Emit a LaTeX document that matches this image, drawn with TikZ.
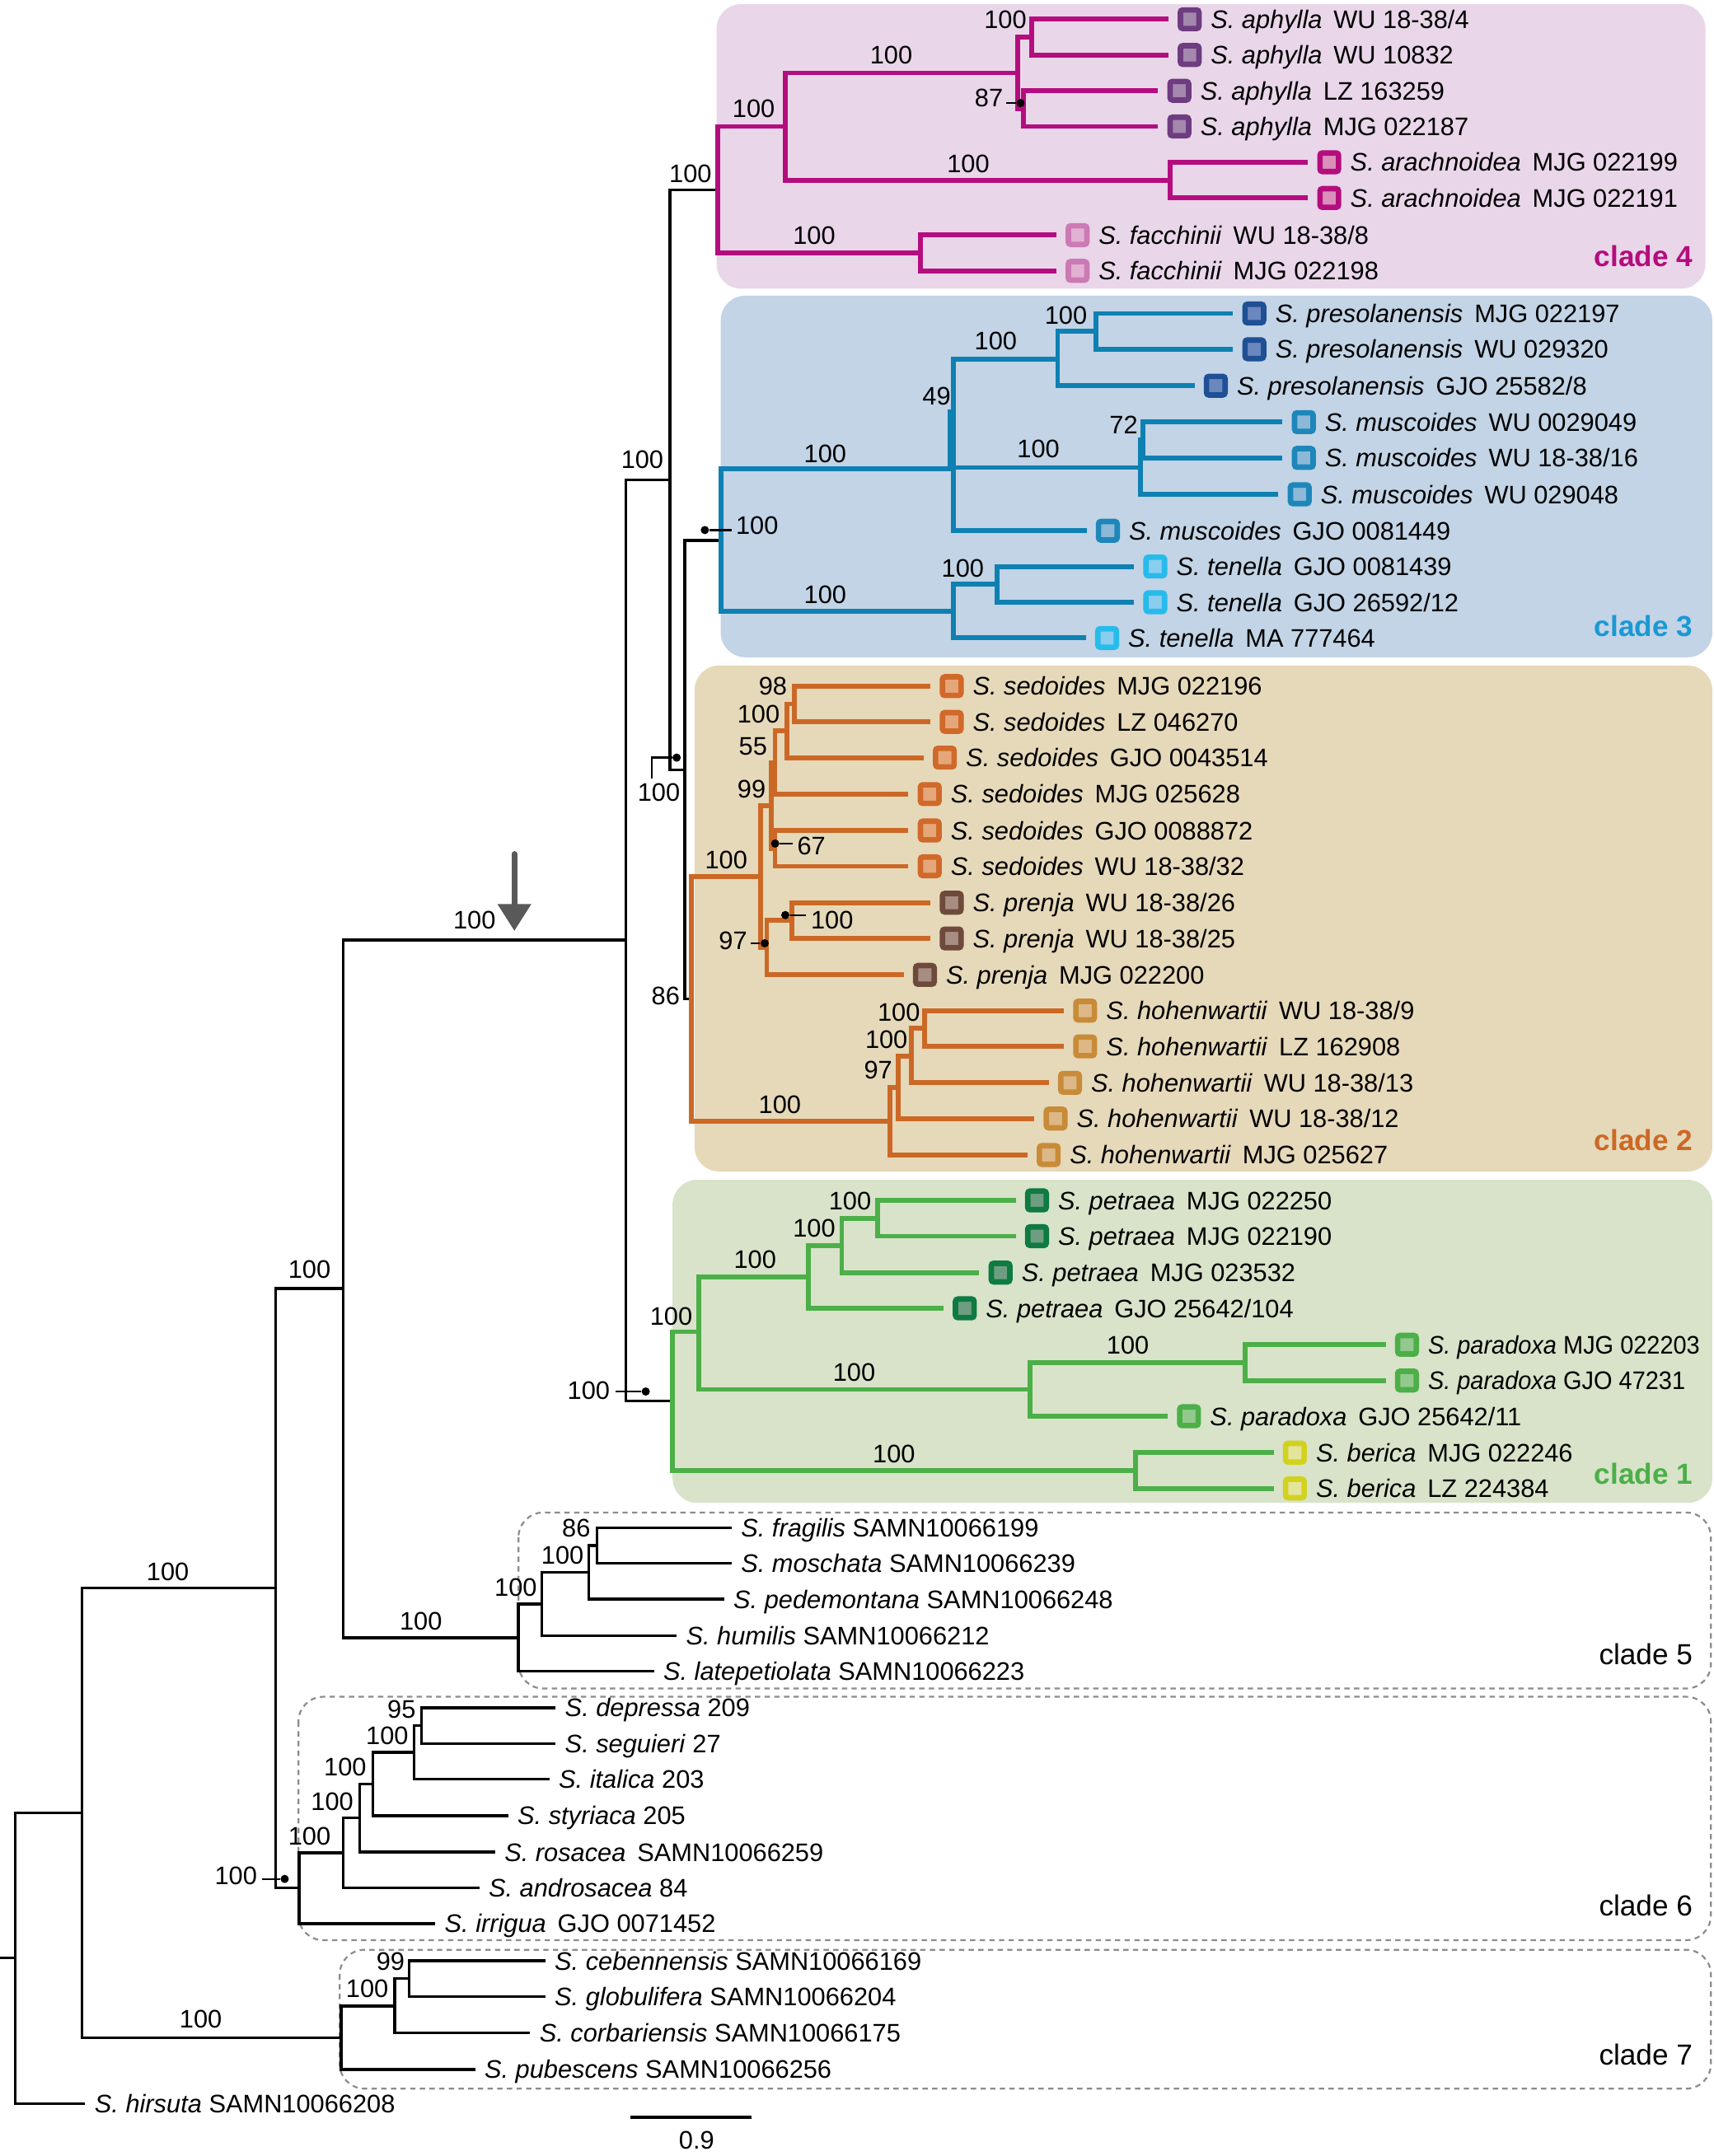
\documentclass[tikz,border=0pt]{standalone}
\usepackage{graphicx}
\usepackage{fontspec}
\setmainfont{Liberation Sans}
\usetikzlibrary{positioning,arrows.meta,calc}

\definecolor{magbr}{HTML}{B40D7E}
\definecolor{bluebr}{HTML}{0E80B2}
\definecolor{bluelab}{HTML}{1B98D4}
\definecolor{orbr}{HTML}{CC6826}
\definecolor{grnbr}{HTML}{4CAF48}
\definecolor{bgfour}{HTML}{E9D6E9}
\definecolor{bgthree}{HTML}{C2D4E6}
\definecolor{bgtwo}{HTML}{E6D9B9}
\definecolor{bgone}{HTML}{D8E3C9}
\definecolor{arrgray}{HTML}{595959}
\definecolor{aphD}{HTML}{6E3C80}\definecolor{aphL}{HTML}{A488AE}
\definecolor{araD}{HTML}{B40D7E}\definecolor{araL}{HTML}{D98FBA}
\definecolor{facD}{HTML}{CC7AB4}\definecolor{facL}{HTML}{E2B0D2}
\definecolor{preD}{HTML}{1F4F94}\definecolor{preL}{HTML}{6A88BE}
\definecolor{musD}{HTML}{1D87B9}\definecolor{musL}{HTML}{8DB8D8}
\definecolor{tenD}{HTML}{27BBEB}\definecolor{tenL}{HTML}{8ACDEE}
\definecolor{sedD}{HTML}{D0692A}\definecolor{sedL}{HTML}{E5A77A}
\definecolor{prnD}{HTML}{6E4A3C}\definecolor{prnL}{HTML}{A88D82}
\definecolor{hohD}{HTML}{C88B37}\definecolor{hohL}{HTML}{DCB888}
\definecolor{petD}{HTML}{0F7A42}\definecolor{petL}{HTML}{6E9E82}
\definecolor{parD}{HTML}{4CAF48}\definecolor{parL}{HTML}{94C98E}
\definecolor{berD}{HTML}{D2D21E}\definecolor{berL}{HTML}{E4E49C}

\newcommand{\taxw}[2]{\textit{S. #1}\hspace{0.45em}#2}
\newcommand{\taxn}[2]{\textit{S. #1} #2}
\newcommand{\taxc}[2]{\scalebox{0.94}[1]{\textit{S. #1} #2}}

\tikzset{
  lab/.style={font=\fontsize{10.5}{12.5}\selectfont, inner sep=0pt, text height=9pt, text depth=1.5pt},
  cladelab/.style={font=\fontsize{12}{14}\selectfont\bfseries, inner sep=0pt, anchor=east, text height=10.4pt, text depth=1.8pt},
  cladeplain/.style={cladelab, font=\fontsize{12}{14}\selectfont},
  br0/.style={line width=1.2pt, black},
  br1/.style={line width=2pt, grnbr},
  br2/.style={line width=2pt, orbr},
  br3/.style={line width=2pt, bluebr},
  br4/.style={line width=2pt, magbr},
  sq/.style={rectangle, draw=#1D, fill=#1L, line width=0.08cm, minimum size=0.27cm, inner sep=0pt, rounded corners=1pt},
  ptdot/.style={circle, fill=black, inner sep=0pt, minimum size=0.12cm},
  ptr/.style={line width=0.8pt, black},
  clbox/.style={rounded corners=0.36cm},
  dashbox/.style={draw=gray!90, line width=0.75pt, dash pattern=on 2.2pt off 1.8pt, rounded corners=0.36cm},
  bigarrow/.style={draw=arrgray, line width=0.08cm, line cap=round, -{Triangle[width=0.47cm,length=0.39cm]}}
}

\begin{document}
\begin{tikzpicture}[x=0.02cm, y=-0.02cm]
\fill[white] (0,0) rectangle (1246,1568);
\useasboundingbox (0,0) rectangle (1246,1568);

\fill[bgfour, clbox] (521,3) rectangle (1240,210);
\fill[bgthree, clbox] (524,215) rectangle (1245,478);
\fill[bgtwo, clbox] (505,484) rectangle (1245,852);
\fill[bgone, clbox] (489,858) rectangle (1245,1093);
\draw[dashbox] (377,1100) rectangle (1244,1228);
\draw[dashbox] (217,1234) rectangle (1244,1411);
\draw[dashbox] (247,1418) rectangle (1244,1519);

\coordinate (rs) at (0,1424);
\coordinate (rt) at (11,1424);
\coordinate (r3) at (59.5,1318.5);
\coordinate (r2) at (200.5,1155);
\coordinate (r1) at (249.5,937);
\coordinate (k2) at (455,683.5);
\coordinate (k1) at (487,349);
\coordinate (y3) at (498,560);
\coordinate (c4) at (522,138);
\coordinate (a4) at (571,92);
\coordinate (a3) at (740,53);
\coordinate (a1) at (750,27);
\coordinate (a2) at (744,79);
\coordinate (ar) at (851,131);
\coordinate (fa) at (669,184);
\coordinate (c3) at (524.5,393);
\coordinate (b49) at (693,341);
\coordinate (b49a) at (690.5,298);
\coordinate (b49b) at (690.5,343);
\coordinate (p2) at (769,261);
\coordinate (p1) at (797,241);
\coordinate (m2) at (829,340);
\coordinate (m1) at (831,320);
\coordinate (te2) at (693,444.5);
\coordinate (te1) at (725,425);
\coordinate (c2) at (502.5,726.5);
\coordinate (sp) at (553,637.5);
\coordinate (s99) at (561,586);
\coordinate (s55) at (563.5,554.5);
\coordinate (s100) at (572,531.5);
\coordinate (s98) at (577.5,512);
\coordinate (s67) at (563.5,617);
\coordinate (pr2) at (557.5,689);
\coordinate (pr1) at (576,669.5);
\coordinate (h4) at (647,815.5);
\coordinate (h3) at (653,791);
\coordinate (h2) at (662.5,768);
\coordinate (h1) at (672.5,748);
\coordinate (c1) at (489,1019);
\coordinate (e4) at (508,968.5);
\coordinate (e3) at (588,928.5);
\coordinate (e2) at (612,906);
\coordinate (e1) at (638,886);
\coordinate (pa2) at (749,1010.5);
\coordinate (pa1) at (905.5,991);
\coordinate (be) at (825.5,1069.5);
\coordinate (c5) at (377,1191);
\coordinate (f3) at (394,1166.5);
\coordinate (f2) at (428,1143.5);
\coordinate (f1) at (434,1124);
\coordinate (c6) at (217.5,1373);
\coordinate (d5) at (249.5,1347.5);
\coordinate (d4) at (261.5,1322);
\coordinate (d3) at (271,1297.5);
\coordinate (d2) at (301,1274.5);
\coordinate (d1) at (306.5,1255);
\coordinate (c7) at (248,1482);
\coordinate (g2) at (287,1459);
\coordinate (g1) at (297.5,1439);

\draw[br0] (rs) -- (rt);
\draw[br0] (rt) |- (r3);
\draw[br0] (r3) |- (r2);
\draw[br0] (r3) |- (c7);
\draw[br0] (r2) |- (r1);
\draw[br0] (r2) |- (c6);
\draw[br0] (r1) |- (k2);
\draw[br0] (r1) |- (c5);
\draw[br0] (k2) |- (k1);
\draw[br0] (k2) |- (c1);
\draw[br0] (k1) |- (c4);
\draw[br0] (k1) |- (y3);
\draw[br0] (y3) |- (c3);
\draw[br0] (y3) |- (c2);
\draw[br0] (c5) |- (f3);
\draw[br0] (f3) |- (f2);
\draw[br0] (f2) |- (f1);
\draw[br0] (c6) |- (d5);
\draw[br0] (d5) |- (d4);
\draw[br0] (d4) |- (d3);
\draw[br0] (d3) |- (d2);
\draw[br0] (d2) |- (d1);
\draw[br0] (c7) |- (g2);
\draw[br0] (g2) |- (g1);

\draw[br4] (c4) |- (a4);
\draw[br4] (c4) |- (fa);
\draw[br4] (a4) |- (a3);
\draw[br4] (a4) |- (ar);
\draw[br4] (a3) |- (a1);
\draw[br4] (a3) |- (a2);

\draw[br3] (c3) |- (b49);
\draw[br3] (c3) |- (te2);
\draw[br3] (b49) |- (p2);
\draw[br3] (b49) |- (m2);
\draw[br3] (b49a) -- (b49b);
\draw[br3] (p2) |- (p1);
\draw[br3] (m2) |- (m1);
\draw[br3] (te2) |- (te1);

\draw[br2] (c2) |- (sp);
\draw[br2] (c2) |- (h4);
\draw[br2] (sp) |- (s99);
\draw[br2] (sp) |- (pr2);
\draw[br2] (s99) |- (s55);
\draw[br2] (s99) |- (s67);
\draw[br2] (s55) |- (s100);
\draw[br2] (s100) |- (s98);
\draw[br2] (pr2) |- (pr1);
\draw[br2] (h4) |- (h3);
\draw[br2] (h3) |- (h2);
\draw[br2] (h2) |- (h1);

\draw[br1] (c1) |- (e4);
\draw[br1] (c1) |- (be);
\draw[br1] (e4) |- (e3);
\draw[br1] (e4) |- (pa2);
\draw[br1] (e3) |- (e2);
\draw[br1] (e2) |- (e1);
\draw[br1] (pa2) |- (pa1);

\foreach \nm/\pa/\yy/\sx/\mk/\txt in {
  t1/a1/14/865/aph/{\taxw{aphylla}{WU 18-38/4}},
  t2/a1/40/865/aph/{\taxw{aphylla}{WU 10832}},
  t3/a2/66/857.5/aph/{\taxw{aphylla}{LZ 163259}},
  t4/a2/92/857.5/aph/{\taxw{aphylla}{MJG 022187}},
  t5/ar/118/966.5/ara/{\taxw{arachnoidea}{MJG 022199}},
  t6/ar/144/966.5/ara/{\taxw{arachnoidea}{MJG 022191}},
  t7/fa/171/783.5/fac/{\taxw{facchinii}{WU 18-38/8}},
  t8/fa/197/783.5/fac/{\taxw{facchinii}{MJG 022198}}}
{
  \node[sq=\mk] (\nm) at (\sx,\yy) {};
  \node[lab, right=0.125cm of \nm] (\nm-t) {\txt};
  \draw[br4] (\pa) |- ([xshift=-0.135cm]\nm.west);
}

\foreach \nm/\pa/\yy/\sx/\mk/\txt in {
  t9/p1/228/912/pre/{\taxw{presolanensis}{MJG 022197}},
  t10/p1/254/912/pre/{\taxw{presolanensis}{WU 029320}},
  t11/p2/280.5/884/pre/{\taxw{presolanensis}{GJO 25582/8}},
  t12/m1/307/948/mus/{\taxw{muscoides}{WU 0029049}},
  t13/m1/333/948/mus/{\taxw{muscoides}{WU 18-38/16}},
  t14/m2/359.5/945/mus/{\taxw{muscoides}{WU 029048}},
  t15/b49/386/805.5/mus/{\taxw{muscoides}{GJO 0081449}},
  t16/te1/412/840/ten/{\taxw{tenella}{GJO 0081439}},
  t17/te1/438/840/ten/{\taxw{tenella}{GJO 26592/12}},
  t18/te2/464/805/ten/{\taxw{tenella}{MA 777464}}}
{
  \node[sq=\mk] (\nm) at (\sx,\yy) {};
  \node[lab, right=0.125cm of \nm] (\nm-t) {\txt};
  \draw[br3] (\pa) |- ([xshift=-0.135cm]\nm.west);
}

\foreach \nm/\pa/\yy/\sx/\mk/\txt in {
  t19/s98/499/692/sed/{\taxw{sedoides}{MJG 022196}},
  t20/s98/525/692/sed/{\taxw{sedoides}{LZ 046270}},
  t21/s100/551/687/sed/{\taxw{sedoides}{GJO 0043514}},
  t22/s55/577.5/676/sed/{\taxw{sedoides}{MJG 025628}},
  t23/s67/604/676/sed/{\taxw{sedoides}{GJO 0088872}},
  t24/s67/630/676/sed/{\taxw{sedoides}{WU 18-38/32}},
  t25/pr1/656.5/692/prn/{\taxw{prenja}{WU 18-38/26}},
  t26/pr1/682.5/692/prn/{\taxw{prenja}{WU 18-38/25}},
  t27/pr2/709/672.5/prn/{\taxw{prenja}{MJG 022200}},
  t28/h1/735/789/hoh/{\taxw{hohenwartii}{WU 18-38/9}},
  t29/h1/761/789/hoh/{\taxw{hohenwartii}{LZ 162908}},
  t30/h2/787.5/778/hoh/{\taxw{hohenwartii}{WU 18-38/13}},
  t31/h3/813.5/767.5/hoh/{\taxw{hohenwartii}{WU 18-38/12}},
  t32/h4/840/762.5/hoh/{\taxw{hohenwartii}{MJG 025627}}}
{
  \node[sq=\mk] (\nm) at (\sx,\yy) {};
  \node[lab, right=0.125cm of \nm] (\nm-t) {\txt};
  \draw[br2] (\pa) |- ([xshift=-0.135cm]\nm.west);
}

\foreach \nm/\pa/\yy/\sx/\mk/\txt in {
  t33/e1/873/754/pet/{\taxw{petraea}{MJG 022250}},
  t34/e1/899/754/pet/{\taxw{petraea}{MJG 022190}},
  t35/e2/925.5/727.5/pet/{\taxw{petraea}{MJG 023532}},
  t36/e3/951.5/701.5/pet/{\taxw{petraea}{GJO 25642/104}},
  t37/pa1/978/1023/par/{\taxc{paradoxa}{MJG 022203}},
  t38/pa1/1004/1023/par/{\taxc{paradoxa}{GJO 47231}},
  t39/pa2/1030/864.5/par/{\taxw{paradoxa}{GJO 25642/11}},
  t40/be/1056.5/941.5/ber/{\taxw{berica}{MJG 022246}},
  t41/be/1082.5/941.5/ber/{\taxw{berica}{LZ 224384}}}
{
  \node[sq=\mk] (\nm) at (\sx,\yy) {};
  \node[lab, right=0.125cm of \nm] (\nm-t) {\txt};
  \draw[br1] (\pa) |- ([xshift=-0.135cm]\nm.west);
}

\foreach \nm/\pa/\yy/\sx/\txt in {
  t42/f1/1111/538.5/{\taxn{fragilis}{SAMN10066199}},
  t43/f1/1137/538.5/{\taxn{moschata}{SAMN10066239}},
  t44/f2/1163/533/{\taxn{pedemontana}{SAMN10066248}},
  t45/f3/1189.5/498.5/{\taxn{humilis}{SAMN10066212}},
  t46/c5/1215.5/482/{\taxn{latepetiolata}{SAMN10066223}},
  t47/d1/1242/410.5/{\taxn{depressa}{209}},
  t48/d1/1268/410.5/{\taxn{seguieri}{27}},
  t49/d2/1294/406/{\taxn{italica}{203}},
  t50/d3/1320.5/376/{\taxn{styriaca}{205}},
  t51/d4/1347/366.5/{\taxw{rosacea}{SAMN10066259}},
  t52/d5/1373/355/{\taxn{androsacea}{84}},
  t53/c6/1399/323/{\taxw{irrigua}{GJO 0071452}},
  t54/g1/1426/403/{\taxn{cebennensis}{SAMN10066169}},
  t55/g1/1452/403/{\taxn{globulifera}{SAMN10066204}},
  t56/g2/1478.5/392/{\taxn{corbariensis}{SAMN10066175}},
  t57/c7/1505/352/{\taxn{pubescens}{SAMN10066256}},
  t58/rt/1530/68.5/{\taxn{hirsuta}{SAMN10066208}}}
{
  \node[lab, anchor=west] (\nm) at (\sx,\yy) {\txt};
  \draw[br0] (\pa) |- ([xshift=-0.13cm]\nm.west);
}

\foreach \xx/\yy/\vv [count=\i] in {
  731/14/100, 648/40/100, 548/79/100, 704/119/100, 592/171/100, 502/126/100,
  775/229/100, 724/248/100, 681/288/49, 817/309/72, 755/326/100, 600/330/100,
  700/413/100, 600/432/100, 467/334/100, 484/724/86, 225/923/100, 122/1143/100,
  146/1468/100, 562/499/98, 551.5/519/100, 547.5/542.5/55, 546.5/573.5/99,
  528/625/100, 653.5/736/100, 644.5/756/100, 638.5/778/97, 567/803/100,
  618/873/100, 592/893/100, 549/916/100, 488/957/100, 820/978/100, 621/998/100,
  650/1057/100, 419/1111/86, 409/1131/100, 375/1154/100, 306/1179/100,
  292/1243/95, 281.5/1262/100, 251/1285/100, 241.5/1310/100, 225/1335.5/100,
  284/1426/99, 267/1446/100}
  \node[lab] (bs\i) at (\xx,\yy) {\vv};

\node[ptdot] (pd1) at (742,75) {};
\node[lab] (pl1) at (719,71) {87};
\draw[ptr] (pd1) -- ($(pd1 -| pl1.east)+(2,0)$);
\node[ptdot] (pd2) at (512.5,385.5) {};
\node[lab] (pl2) at (550.5,382) {100};
\draw[ptr] (pd2) -- ($(pd2 -| pl2.west)+(-3,0)$);
\node[ptdot] (pd3) at (492,551) {};
\node[lab] (pl3) at (479,576) {100};
\draw[ptr] (pd3) -| ($(pl3.north)+(-5,0)$);
\node[ptdot] (pd4) at (563.6,613.5) {};
\node[lab] (pl4) at (590,615) {67};
\draw[ptr] (pd4) -- ($(pd4 -| pl4.west)+(-3,0)$);
\node[ptdot] (pd5) at (571,665.5) {};
\node[lab] (pl5) at (605,669) {100};
\draw[ptr] (pd5) -- ($(pd5 -| pl5.west)+(-3,0)$);
\node[ptdot] (pd6) at (556,686) {};
\node[lab] (pl6) at (533,684) {97};
\draw[ptr] (pd6) -- ($(pd6 -| pl6.east)+(2,0)$);
\node[ptdot] (pd7) at (469.5,1012) {};
\node[lab] (pl7) at (428,1011) {100};
\draw[ptr] (pd7) -- ($(pd7 -| pl7.east)+(4,0)$);
\node[ptdot] (pd8) at (207,1366.5) {};
\node[lab] (pl8) at (171.5,1364) {100};
\draw[ptr] (pd8) -- ($(pd8 -| pl8.east)+(3,0)$);

\coordinate (arr-s) at (374,621);
\coordinate (arr-e) at (374,677);
\draw[bigarrow] (arr-s) -- (arr-e);
\node[lab] (arr-lab) at (345,669) {100};

\node[cladelab, text=magbr] (cl4) at (1231,186) {clade 4};
\node[cladelab, text=bluelab] (cl3) at (1231,455) {clade 3};
\node[cladelab, text=orbr] (cl2) at (1231,829) {clade 2};
\node[cladelab, text=grnbr] (cl1) at (1231,1072) {clade 1};
\node[cladeplain] (cl5) at (1231,1203) {clade 5};
\node[cladeplain] (cl6) at (1231,1386) {clade 6};
\node[cladeplain] (cl7) at (1231,1494) {clade 7};

\coordinate (sb-l) at (458.5,1540);
\coordinate (sb-r) at (546.5,1540);
\draw[line width=1.3pt] (sb-l) -- (sb-r);
\node[lab] (sb-lab) at (506.5,1556) {0.9};
\end{tikzpicture}
\end{document}
